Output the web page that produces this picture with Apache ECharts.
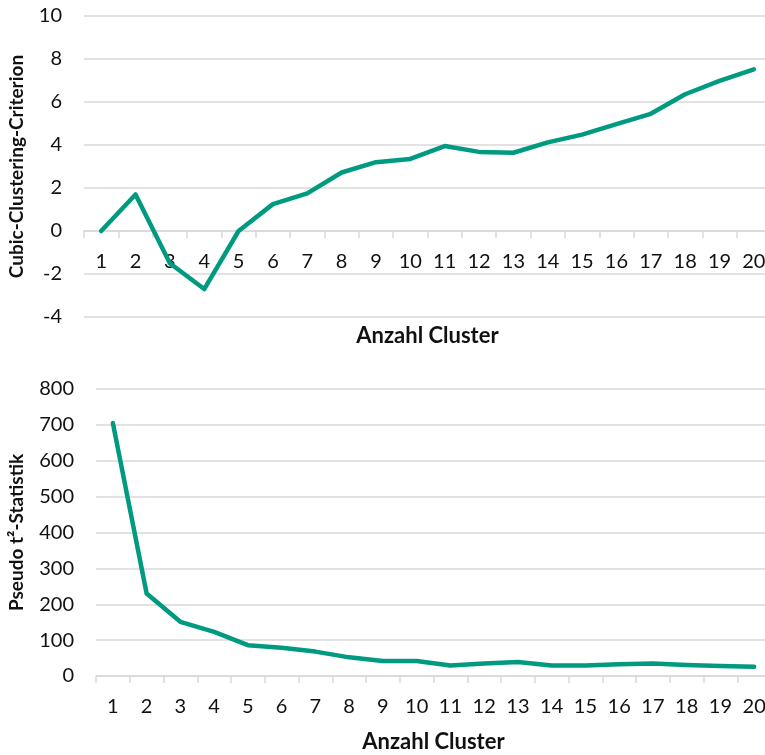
<!DOCTYPE html>
<html>
<head>
<meta charset="utf-8">
<script src="https://cdn.jsdelivr.net/npm/echarts@6/dist/echarts.min.js"></script>
<style>html,body{margin:0;padding:0;background:#fff;}#c{width:765px;height:755px;}</style>
</head>
<body>
<div id="c"></div>
<script>
const categories = ['1','2','3','4','5','6','7','8','9','10','11','12','13','14','15','16','17','18','19','20'];
const cccValues = [0, 1.7, -1.5, -2.7, 0, 1.25, 1.75, 2.72, 3.2, 3.35, 3.95, 3.68, 3.64, 4.12, 4.48, 4.97, 5.45, 6.36, 6.98, 7.52];
const pseudoT2Values = [705, 230, 151, 123, 86, 79, 68, 52, 42, 42, 29, 35, 39, 29, 29, 33, 35, 31, 28, 26];
const cccTicks = {min: -4, max: 10, interval: 2};
const t2Ticks = {min: 0, max: 800, interval: 100};
const xTitle = 'Anzahl Cluster';
const yTitleTop = 'Cubic-Clustering-Criterion';
const yTitleBottom = 'Pseudo t²-Statistik';

const FONT = 'Lato';
const LINE = '#009A80';
const GRID = '#D9D9D9';
const chart = echarts.init(document.getElementById('c'), null, {renderer: 'canvas'});

function xAxis(idx, gap, offset) {
  return {
    type: 'category', gridIndex: idx, data: categories, boundaryGap: true, offset: offset,
    axisLine: {show: true, onZero: false, lineStyle: {color: GRID, width: 1.5}},
    axisTick: {show: true, length: 7, lineStyle: {color: GRID, width: 1.5}},
    axisLabel: {color: '#111', fontFamily: FONT, fontSize: 20, margin: 21},
    name: xTitle, nameLocation: 'middle', nameGap: gap,
    nameTextStyle: {fontFamily: FONT, fontWeight: 'bold', fontSize: 22, color: '#111'}
  };
}
function yAxis(idx, t, name, gap) {
  return {
    type: 'value', gridIndex: idx, min: t.min, max: t.max, interval: t.interval,
    axisLine: {show: false}, axisTick: {show: false},
    splitLine: {show: true, lineStyle: {color: GRID, width: 1.5}},
    axisLabel: {color: '#111', fontFamily: FONT, fontSize: 20, margin: 22},
    name: name, nameLocation: 'middle', nameGap: gap, nameRotate: 90,
    nameTextStyle: {fontFamily: FONT, fontWeight: 'bold', fontSize: 19, color: '#111'}
  };
}

chart.setOption({
  animation: false,
  backgroundColor: '#fff',
  grid: [
    {left: 84, width: 687, top: 16, height: 301, outerBoundsMode: 'none', containLabel: false},
    {left: 96, width: 675, top: 389, height: 287, outerBoundsMode: 'none', containLabel: false}
  ],
  xAxis: [xAxis(0, 94, -86), xAxis(1, 55, 0)],
  yAxis: [yAxis(0, cccTicks, yTitleTop, 58), yAxis(1, t2Ticks, yTitleBottom, 70)],
  series: [
    {type: 'line', xAxisIndex: 0, yAxisIndex: 0, data: cccValues, symbol: 'none',
     lineStyle: {color: LINE, width: 4.5, cap: 'round', join: 'round'}},
    {type: 'line', xAxisIndex: 1, yAxisIndex: 1, data: pseudoT2Values, symbol: 'none',
     lineStyle: {color: LINE, width: 4.5, cap: 'round', join: 'round'}}
  ]
});
</script>
</body>
</html>
